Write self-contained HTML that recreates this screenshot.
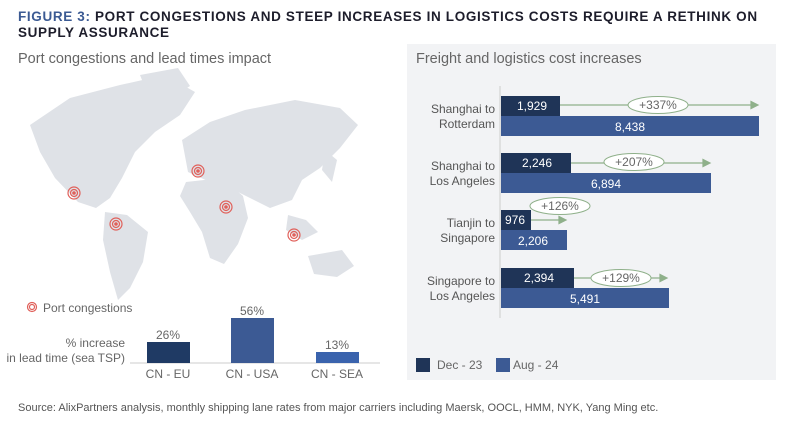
<!DOCTYPE html>
<html><head><meta charset="utf-8"><style>
body{margin:0;width:800px;height:431px;background:#fff;overflow:hidden;font-family:"Liberation Sans",sans-serif}
</style></head><body>
<svg width="800" height="431" xmlns="http://www.w3.org/2000/svg" font-family="Liberation Sans, sans-serif">
<text x="18" y="21" font-size="13.5" font-weight="bold" fill="#1d1d2b" letter-spacing="0.65"><tspan fill="#3b5a93">FIGURE 3:</tspan> PORT CONGESTIONS AND STEEP INCREASES IN LOGISTICS COSTS REQUIRE A RETHINK ON</text>
<text x="18" y="37" font-size="13.5" font-weight="bold" fill="#1d1d2b" letter-spacing="0.65">SUPPLY ASSURANCE</text>
<text x="18" y="63" font-size="14.5" fill="#666">Port congestions and lead times impact</text>
<g fill="#dfe2e7">
<path d="M30 125 L70 98 L120 85 L165 75 L195 92 L180 115 L155 132 L135 152 L122 178 L110 198 L96 208 L78 202 L55 178 L40 152 Z"/>
<path d="M140 75 L178 68 L190 86 L168 100 L148 95 Z"/>
<path d="M105 212 L127 215 L148 232 L143 262 L130 288 L118 300 L110 272 L103 240 Z"/>
<path d="M182 140 L210 122 L245 110 L295 100 L340 108 L358 125 L340 148 L320 168 L302 180 L292 200 L270 208 L250 198 L230 188 L210 182 L188 172 Z"/>
<path d="M186 182 L222 178 L243 196 L248 218 L238 244 L224 264 L210 258 L202 232 L190 212 L180 196 Z"/>
<path d="M288 215 L306 220 L318 232 L302 240 L286 230 Z"/>
<path d="M308 256 L342 250 L354 266 L337 277 L314 274 Z"/>
<path d="M325 150 L337 160 L332 182 L322 170 Z"/>
</g>
<g fill="none" stroke="#e0605a" stroke-width="1.2">
<circle cx="74" cy="193" r="6"/><circle cx="74" cy="193" r="3.5"/><circle cx="74" cy="193" r="1.2" fill="#e0605a"/>
<circle cx="198" cy="171" r="6"/><circle cx="198" cy="171" r="3.5"/><circle cx="198" cy="171" r="1.2" fill="#e0605a"/>
<circle cx="116" cy="224" r="6"/><circle cx="116" cy="224" r="3.5"/><circle cx="116" cy="224" r="1.2" fill="#e0605a"/>
<circle cx="226" cy="207" r="6"/><circle cx="226" cy="207" r="3.5"/><circle cx="226" cy="207" r="1.2" fill="#e0605a"/>
<circle cx="294" cy="235" r="6"/><circle cx="294" cy="235" r="3.5"/><circle cx="294" cy="235" r="1.2" fill="#e0605a"/>
<circle cx="32" cy="307" r="4.5"/><circle cx="32" cy="307" r="2.5"/>
</g>
<text x="43" y="312" font-size="12" fill="#666">Port congestions</text>
<text x="125" y="347" font-size="12" fill="#666" text-anchor="end">% increase</text>
<text x="125" y="362" font-size="12" fill="#666" text-anchor="end">in lead time (sea TSP)</text>
<line x1="130" y1="363" x2="380" y2="363" stroke="#ccc"/>
<rect x="147" y="342" width="43" height="21" fill="#1f3a64"/>
<rect x="231" y="318" width="43" height="45" fill="#3c5a94"/>
<rect x="316" y="352" width="43" height="11" fill="#3a63ad"/>
<g font-size="12" fill="#666" text-anchor="middle">
<text x="168" y="339">26%</text><text x="252" y="315">56%</text><text x="337" y="349">13%</text>
<text x="168" y="378">CN - EU</text><text x="252" y="378">CN - USA</text><text x="337" y="378">CN - SEA</text>
</g>
<rect x="407" y="44" width="369" height="336" fill="#f2f3f5"/>
<text x="416" y="63" font-size="14.5" fill="#666">Freight and logistics cost increases</text>
<line x1="500" y1="86" x2="500" y2="318" stroke="#ccc"/>
<g font-size="12" fill="#555" text-anchor="end">
<text x="495" y="113">Shanghai to</text><text x="495" y="128">Rotterdam</text>
<text x="495" y="170">Shanghai to</text><text x="495" y="185">Los Angeles</text>
<text x="495" y="227">Tianjin to</text><text x="495" y="242">Singapore</text>
<text x="495" y="285">Singapore to</text><text x="495" y="300">Los Angeles</text>
</g>
<g fill="#3c5a94">
<rect x="501" y="116" width="258" height="20"/><rect x="501" y="173" width="210" height="20"/>
<rect x="501" y="230" width="66" height="20"/><rect x="501" y="288" width="168" height="20"/>
</g>
<g fill="#1f3457">
<rect x="501" y="96" width="59" height="20"/><rect x="501" y="153" width="70" height="20"/>
<rect x="501" y="210" width="30" height="20"/><rect x="501" y="268" width="73" height="20"/>
</g>
<g stroke="#8fb08a" stroke-width="1.2" fill="#8fb08a">
<line x1="560" y1="105" x2="752" y2="105"/><path d="M758 105 l-7 -3.5 v7z"/>
<line x1="571" y1="163" x2="704" y2="163"/><path d="M710 163 l-7 -3.5 v7z"/>
<line x1="531" y1="220" x2="560" y2="220"/><path d="M566 220 l-7 -3.5 v7z"/>
<line x1="574" y1="278" x2="661" y2="278"/><path d="M667 278 l-7 -3.5 v7z"/>
</g>
<g fill="#fff" stroke="#8fb08a" stroke-width="1">
<ellipse cx="658" cy="105" rx="30" ry="8.5"/><ellipse cx="634" cy="162" rx="30" ry="8.5"/>
<ellipse cx="560" cy="206" rx="30" ry="8.5"/><ellipse cx="621" cy="278" rx="30" ry="8.5"/>
</g>
<g font-size="12" fill="#666" text-anchor="middle">
<text x="658" y="109">+337%</text><text x="634" y="166">+207%</text>
<text x="560" y="210">+126%</text><text x="621" y="282">+129%</text>
</g>
<g font-size="12" fill="#fff">
<text x="517" y="110">1,929</text><text x="522" y="167">2,246</text><text x="505" y="224">976</text><text x="524" y="282">2,394</text>
<text x="630" y="131" text-anchor="middle">8,438</text><text x="606" y="188" text-anchor="middle">6,894</text>
<text x="533" y="245" text-anchor="middle">2,206</text><text x="585" y="303" text-anchor="middle">5,491</text>
</g>
<rect x="416" y="358" width="14" height="14" fill="#1f3457"/>
<text x="437" y="369" font-size="12" fill="#666">Dec - 23</text>
<rect x="496" y="358" width="14" height="14" fill="#3c5a94"/>
<text x="513" y="369" font-size="12" fill="#666">Aug - 24</text>
<text x="18" y="411" font-size="11" fill="#555">Source: AlixPartners analysis, monthly shipping lane rates from major carriers including Maersk, OOCL, HMM, NYK, Yang Ming etc.</text>
</svg>
</body></html>
